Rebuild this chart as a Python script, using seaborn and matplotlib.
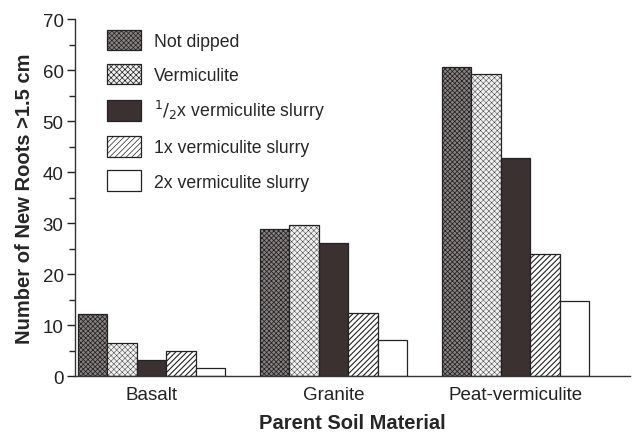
"""Liczba nowych korzeni > 1.5 cm wg materiału glebowego i zabiegu"""

import pandas as pd
import seaborn as sns
import matplotlib.pyplot as plt
from matplotlib.ticker import MultipleLocator

# ---------------- dane ----------------
materialy = ["Basalt", "Granite", "Peat-vermiculite"]
zabiegi = ["Not dipped", "Vermiculite", r"$^{1}/_{2}$x vermiculite slurry",
           "1x vermiculite slurry", "2x vermiculite slurry"]
not_dipped = [12.1, 28.9, 60.6]
vermiculite = [6.4, 29.6, 59.3]
half_slurry = [3.2, 26.1, 42.8]
one_slurry = [4.9, 12.3, 23.9]
two_slurry = [1.5, 7.0, 14.7]

serie = [not_dipped, vermiculite, half_slurry, one_slurry, two_slurry]
df = pd.DataFrame({
    "material": [m for _ in zabiegi for m in materialy],
    "zabieg": [z for z in zabiegi for _ in materialy],
    "korzenie": [v for s in serie for v in s],
})

# wygląd słupków: (kolor wypełnienia, kreskowanie, grubość kreski)
style = [("#8a8282", "xxxxxxx", 0.55), ("#f0f0f0", "xxxxxx", 0.3),
         ("#3b3131", "", 0.5), ("white", "//////", 0.8), ("white", "", 0.5)]

sns.set_style("white")
plt.rcParams["font.family"] = ["Liberation Sans", "DejaVu Sans"]
plt.rcParams["hatch.linewidth"] = 0.5

fig = plt.figure(figsize=(6.34, 4.35), dpi=100)
ax = fig.add_axes([0.118, 0.133, 0.876, 0.821])

sns.barplot(data=df, x="material", y="korzenie", hue="zabieg",
            order=materialy, hue_order=zabiegi, width=0.81,
            palette=[s[0] for s in style], saturation=1, ax=ax)

for cont, (fc, h, hlw) in zip(ax.containers, style):
    for p in cont:
        p.set_facecolor(fc)
        p.set_edgecolor("#222222")
        p.set_linewidth(0.9)
        p.set_hatch(h)
        if hasattr(p, "set_hatch_linewidth"):
            p.set_hatch_linewidth(hlw)

ax.set_xlim(-0.42, 2.63)
ax.set_ylim(0, 70)
ax.yaxis.set_major_locator(MultipleLocator(10))
ax.yaxis.set_minor_locator(MultipleLocator(5))
ax.tick_params(axis="y", which="major", length=6, width=1, direction="out",
               left=True, labelsize=13.5, colors="#222222", pad=2)
ax.tick_params(axis="y", which="minor", length=4, width=1, direction="out", left=True)
ax.tick_params(axis="x", length=0, labelsize=13.5, colors="#222222", pad=7)

sns.despine(ax=ax)
for s in ["left", "bottom"]:
    ax.spines[s].set_color("#333333")
    ax.spines[s].set_linewidth(1)

ax.set_xlabel("Parent Soil Material", fontsize=14.5, fontweight="bold", labelpad=7)
ax.set_ylabel("Number of New Roots >1.5 cm", fontsize=14.5, fontweight="bold", labelpad=6)

ax.legend(handles=ax.containers, labels=zabiegi, loc="upper left",
          bbox_to_anchor=(0.03, 1.015), frameon=False, fontsize=12.7,
          handlelength=1.9, handleheight=1.42, labelspacing=0.78, handletextpad=0.75)

fig.savefig("out.png", dpi=100)
